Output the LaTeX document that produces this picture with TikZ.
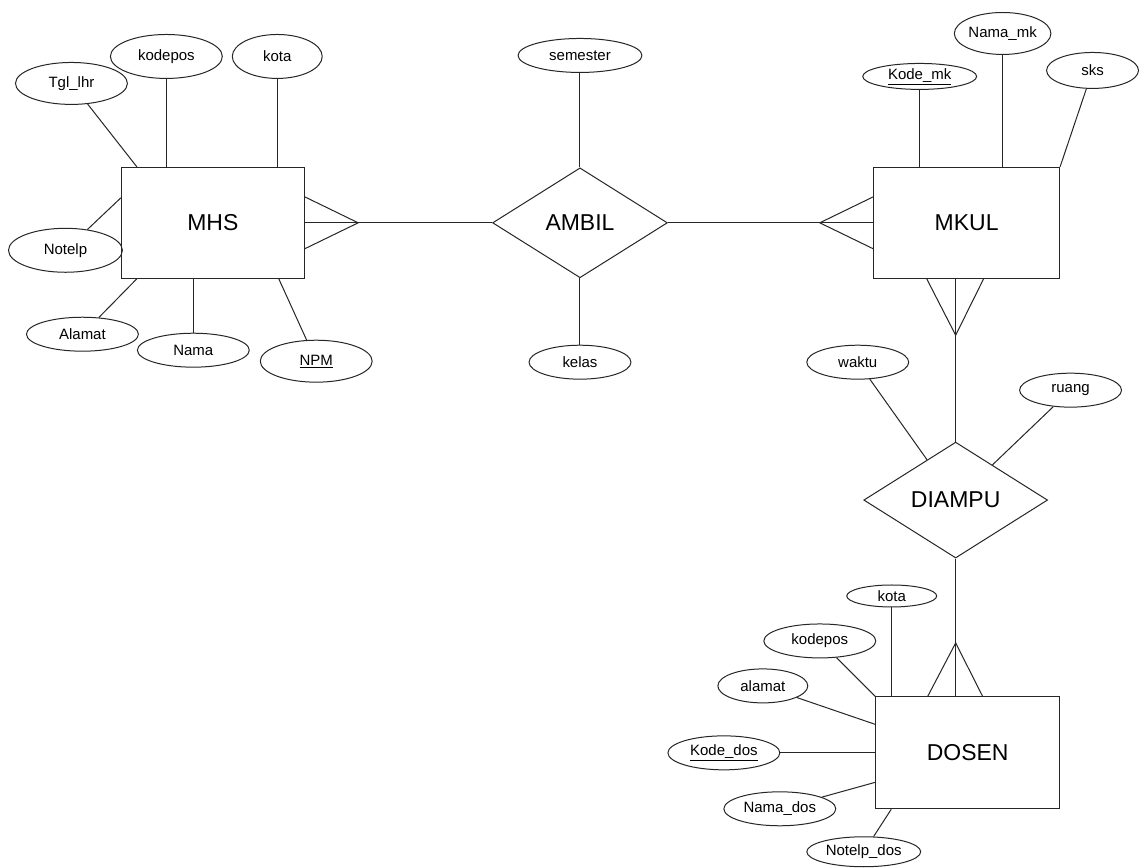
\documentclass[tikz,border=0pt]{standalone}
\usepackage{fontspec}
\setmainfont{Liberation Sans}
\usetikzlibrary{shapes.geometric}
\begin{document}
\begin{tikzpicture}[x=1pt,y=-1pt,
  line width=1pt,
  every path/.style={draw=black!85},
  attr/.style={ellipse,draw=black!85,inner sep=0pt,font=\fontsize{15}{17}\selectfont},
  ent/.style={rectangle,draw=black!85,inner sep=0pt,font=\fontsize{23}{26}\selectfont},
  rel/.style={diamond,draw=black!85,inner sep=0pt,font=\fontsize{23}{26}\selectfont}]
\useasboundingbox (0,0) rectangle (1140,867);
\fill[white] (0,0) rectangle (1140,867);

% ---------- entities ----------
\node[ent,minimum width=183pt,minimum height=111pt] (mhs) at (212.5,222.5) {MHS};
\node[ent,minimum width=186pt,minimum height=111pt] (mkul) at (967,222.5) {MKUL};
\node[ent,minimum width=184pt,minimum height=112pt] (dosen) at (968,753) {DOSEN};

% ---------- relationships ----------
\node[rel,minimum width=175pt,minimum height=110pt,aspect=1.6] (ambil) at (580,222.5) {AMBIL};
\node[rel,minimum width=184pt,minimum height=116pt,aspect=1.6] (diampu) at (956,500) {DIAMPU};

% ---------- MHS attributes ----------
\node[attr,minimum width=112pt,minimum height=42pt] (tgl) at (71,83) {Tgl\_lhr};
\node[attr,minimum width=112pt,minimum height=44pt] (kodepos) at (166,56) {kodepos};
\node[attr,minimum width=90pt,minimum height=44pt] (kota) at (277,56) {kota};
\node[attr,minimum width=114pt,minimum height=44pt] (notelp) at (65,250) {Notelp};
\node[attr,minimum width=112pt,minimum height=34pt] (alamat) at (82,334) {Alamat};
\node[attr,minimum width=112pt,minimum height=34pt] (nama) at (193,350) {Nama};
\node[attr,minimum width=112pt,minimum height=42pt] (npm) at (316,361) {\underline{NPM}};

% ---------- AMBIL attributes ----------
\node[attr,minimum width=124pt,minimum height=34pt] (semester) at (580,55) {semester};
\node[attr,minimum width=102pt,minimum height=34pt] (kelas) at (580,362) {kelas};

% ---------- MKUL attributes ----------
\node[attr,minimum width=114pt,minimum height=26pt] (kodemk) at (920,76) {\underline{Kode\_mk}};
\node[attr,minimum width=92pt,minimum height=42pt] (namamk) at (1003,33) {Nama\_mk};
\node[attr,minimum width=92pt,minimum height=36pt] (sks) at (1093,70) {sks};

% ---------- DIAMPU attributes ----------
\node[attr,minimum width=102pt,minimum height=34pt] (waktu) at (858,362) {waktu};
\node[attr,minimum width=102pt,minimum height=34pt] (ruang) at (1071,390) {ruang};

% ---------- DOSEN attributes ----------
\node[attr,minimum width=90pt,minimum height=22pt] (kotados) at (892,596) {kota};
\node[attr,minimum width=112pt,minimum height=34pt] (kodeposdos) at (820,641) {kodepos};
\node[attr,minimum width=90pt,minimum height=34pt] (alamatdos) at (763,686) {alamat};
\node[attr,minimum width=112pt,minimum height=34pt] (kodedos) at (724,753) {\underline{Kode\_dos}};
\node[attr,minimum width=112pt,minimum height=34pt] (namados) at (780,809) {Nama\_dos};
\node[attr,minimum width=114pt,minimum height=30pt] (noteldos) at (864,852) {Notelp\_dos};

% ---------- attribute connectors ----------
\draw (tgl) -- ([xshift=16pt]mhs.north west);
\draw (kodepos) -- (kodepos |- mhs.north);
\draw (kota) -- (kota |- mhs.north);
\draw (notelp) -- ([yshift=25pt]mhs.west);
\draw (alamat) -- ([xshift=16pt]mhs.south west);
\draw (nama) -- (nama |- mhs.south);
\draw (npm) -- ([xshift=-26pt]mhs.south east);

\draw (semester) -- (ambil.north);
\draw (kelas) -- (ambil.south);

\draw (kodemk) -- (kodemk |- mkul.north);
\draw (namamk) -- (namamk |- mkul.north);
\draw (sks) -- (mkul.north east);

\draw (waktu) -- (diampu);
\draw (ruang) -- (diampu);

\draw (kotados) -- (kotados |- dosen.north);
\draw (kodeposdos) -- (dosen.north west);
\draw (alamatdos) -- ([yshift=-28pt]dosen.north west);
\draw (kodedos) -- (dosen.west);
\draw (namados) -- ([yshift=27pt]dosen.south west);
\draw (noteldos) -- ([xshift=16pt]dosen.south west);

% ---------- relationship connectors with crow's feet ----------
\coordinate (footmhs) at (358,222.5);
\draw (mhs.east) -- (ambil.west);
\draw ([yshift=26pt]mhs.east) -- (footmhs) -- ([yshift=-26pt]mhs.east);

\coordinate (footmkul) at (820,222.5);
\draw (ambil.east) -- (mkul.west);
\draw ([yshift=26pt]mkul.west) -- (footmkul) -- ([yshift=-26pt]mkul.west);

\coordinate (topmkul) at (diampu.north |- mkul.south);
\coordinate (footmkulb) at (956,335);
\draw (diampu.north) -- (topmkul);
\draw ([xshift=-29pt]topmkul) -- (footmkulb) -- ([xshift=28pt]topmkul);

\coordinate (topdosen) at (diampu.south |- dosen.north);
\coordinate (footdosen) at (956,643);
\draw (diampu.south) -- (topdosen);
\draw ([xshift=-28pt]topdosen) -- (footdosen) -- ([xshift=27pt]topdosen);
\end{tikzpicture}
\end{document}
